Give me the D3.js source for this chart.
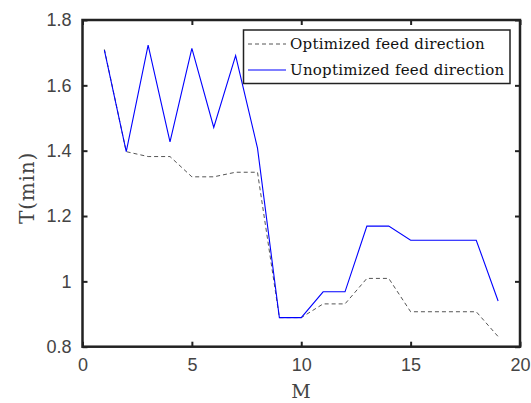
<!DOCTYPE html>
<html>
<head>
<meta charset="utf-8">
<title>feed direction</title>
<script src="https://cdn.jsdelivr.net/npm/d3@7"></script>
<style>
	body{margin:0;background:#fff;}
	.tick text{font-family:"Liberation Sans",Arial,sans-serif;font-size:18px;fill:#444;}
</style>
</head>
<body>
<script>
// data
var M=[1,2,3,4,5,6,7,8,9,10,11,12,13,14,15,16,17,18,19];
var optimized=[1.710,1.397,1.382,1.382,1.320,1.320,1.334,1.334,0.889,0.889,0.931,0.931,1.009,1.009,0.907,0.907,0.907,0.907,0.831];
var unoptimized=[1.708,1.397,1.723,1.427,1.713,1.471,1.691,1.408,0.889,0.889,0.968,0.968,1.169,1.169,1.126,1.126,1.126,1.126,0.940];
var xTicks=[0,5,10,15,20];
var yTicks=[0.8,1,1.2,1.4,1.6,1.8];
var seriesNames=["Optimized feed direction","Unoptimized feed direction"];

var width=531,height=403;
var pLeft=82.5,pRight=520,pTop=20,pBottom=346.7;

var svg=d3.select("body").append("svg")
	.attr("width",width).attr("height",height);

var x=d3.scaleLinear().domain([0,20]).range([pLeft,pRight]);
var y=d3.scaleLinear().domain([0.8,1.8]).range([pBottom,pTop]);

var line=d3.line()
	.x(function(d,i){return x(M[i]);})
	.y(function(d){return y(d);});

svg.append("path")
	.datum(optimized)
	.attr("d",line)
	.attr("fill","none")
	.attr("stroke","#555")
	.attr("stroke-width",1)
	.attr("stroke-dasharray","4,3");

svg.append("path")
	.datum(unoptimized)
	.attr("d",line)
	.attr("fill","none")
	.attr("stroke","#0000ff")
	.attr("stroke-width",1.1);

// axes, ticks pointing inward
function styleAxis(g){
	g.select(".domain").remove();
	g.selectAll(".tick line").attr("stroke","#222").attr("stroke-width",2);
}
svg.append("g").attr("transform","translate(0,"+pBottom+")")
	.call(d3.axisBottom(x).tickValues(xTicks).tickSizeInner(-5).tickSizeOuter(0).tickPadding(12))
	.call(styleAxis);
svg.append("g").attr("transform","translate(0,"+pTop+")")
	.call(d3.axisTop(x).tickValues(xTicks).tickSizeInner(-5).tickSizeOuter(0).tickFormat(""))
	.call(styleAxis);
svg.append("g").attr("transform","translate("+pLeft+",0)")
	.call(d3.axisLeft(y).tickValues(yTicks).tickSizeInner(-5).tickSizeOuter(0).tickPadding(11).tickFormat(d3.format("~g")))
	.call(styleAxis);
svg.append("g").attr("transform","translate("+pRight+",0)")
	.call(d3.axisRight(y).tickValues(yTicks).tickSizeInner(-5).tickSizeOuter(0).tickFormat(""))
	.call(styleAxis);

svg.append("rect")
	.attr("x",pLeft).attr("y",pTop)
	.attr("width",pRight-pLeft).attr("height",pBottom-pTop)
	.attr("fill","none").attr("stroke","#222").attr("stroke-width",2.5);

// axis labels
svg.append("text")
	.attr("x",301).attr("y",398)
	.attr("text-anchor","middle")
	.attr("font-family","'DejaVu Serif',serif")
	.attr("font-size",19)
	.attr("fill","#444")
	.text("M");
svg.append("text")
	.attr("transform","translate(34,188) rotate(-90)")
	.attr("text-anchor","middle")
	.attr("font-family","'DejaVu Serif',serif")
	.attr("font-size",20)
	.attr("letter-spacing",0.8)
	.attr("fill","#444")
	.text("T(min)");

// legend
var lg=svg.append("g");
lg.append("rect")
	.attr("x",243.5).attr("y",30)
	.attr("width",266.5).attr("height",53.5)
	.attr("fill","#fff").attr("stroke","#222").attr("stroke-width",1.5);
var styles=[{stroke:"#555",dash:"4,3",w:1},{stroke:"#0000ff",dash:null,w:1.1}];
seriesNames.forEach(function(name,i){
	var yy=44+i*26;
	lg.append("line")
		.attr("x1",248).attr("x2",286).attr("y1",yy).attr("y2",yy)
		.attr("stroke",styles[i].stroke).attr("stroke-width",styles[i].w)
		.attr("stroke-dasharray",styles[i].dash);
	lg.append("text")
		.attr("x",290).attr("y",yy+5)
		.attr("font-family","'DejaVu Serif',serif")
		.attr("font-size",15)
		.attr("letter-spacing",0.25)
		.attr("fill","#111")
		.text(name);
});
</script>
</body>
</html>
